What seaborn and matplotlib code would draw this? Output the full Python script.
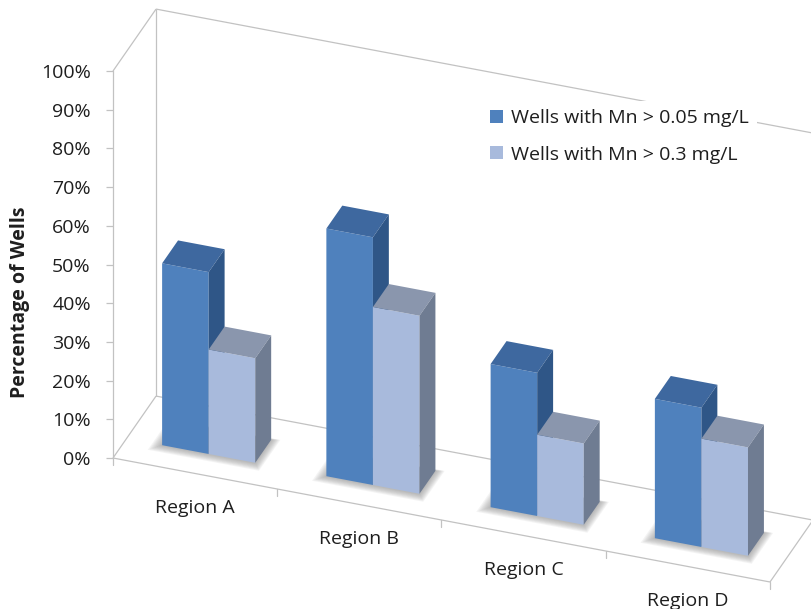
import numpy as np
import pandas as pd
import matplotlib
matplotlib.use("Agg")
import matplotlib.pyplot as plt
from matplotlib.patches import Polygon
from matplotlib.transforms import Affine2D
from matplotlib.ticker import PercentFormatter
import seaborn as sns

# ---- data -------------------------------------------------------------
regions = ["Region A", "Region B", "Region C", "Region D"]
series = ["Wells with Mn > 0.05 mg/L", "Wells with Mn > 0.3 mg/L"]
pct_over_005 = [47, 64, 37, 36]
pct_over_03 = [27, 46, 21, 28]
y_ticks = list(range(0, 101, 10))

# ---- style ------------------------------------------------------------
sns.set_style("white")
plt.rcParams["font.family"] = ["Open Sans", "DejaVu Sans"]
FS = 14
TEXT = "#1E1E1E"
WALL = "#C2C2C2"
front_cols = ["#4F81BD", "#A8BADC"]
top_cols = ["#3E689F", "#8A96AD"]
side_cols = ["#2F5687", "#6F7C92"]

# oblique view: floor drops S percent per category to the right,
# depth 1.0 moves TX categories right and TY percent up
S, TX, TY = 8.01, 0.262, 16.0
T0, T1 = 0.315, 0.685          # depth span of the bars


def proj(x, y, t):
    return (x + TX * t, y - S * (x + 0.5) + TY * t)


W, H = 812, 609
fig = plt.figure(figsize=(W / 100, H / 100), dpi=100)
ax = fig.add_axes([113 / W, (H - 458) / H, 657 / W, 387 / H])
ax.patch.set_visible(False)

df = pd.DataFrame({
    "Region": regions * 2,
    "Series": [series[0]] * len(regions) + [series[1]] * len(regions),
    "Pct": pct_over_005 + pct_over_03,
})
sns.barplot(data=df, x="Region", y="Pct", hue="Series", palette=front_cols,
            width=0.567, saturation=1, linewidth=0, edgecolor="none", ax=ax)

cat_pos = list(ax.get_xticks())
cat_lab = [t.get_text() for t in ax.get_xticklabels()]
handles, labels = ax.get_legend_handles_labels()
if ax.get_legend() is not None:
    ax.get_legend().remove()

ax.set_xlim(-0.5, len(regions) - 0.5)
ax.set_ylim(0, 100)

bars = [p for p in ax.patches if p.get_width() > 0]
bars.sort(key=lambda p: p.get_x())
front_T = Affine2D.from_values(1, -S, 0, 1, TX * T0, -0.5 * S + TY * T0)

# soft shadows on the floor under each pair of bars
for i in range(len(regions)):
    pair = [p for p in bars if abs(p.get_x() + p.get_width() / 2 - cat_pos[i]) < 0.5]
    x0 = min(p.get_x() for p in pair)
    x1 = max(p.get_x() + p.get_width() for p in pair)
    for k in range(8):
        e = 0.05 * (8 - k) / 8
        ex, et = e, e * 1.6
        poly = [proj(x0 - ex * 1.2, 0, T0 - et * 1.3), proj(x1 + ex, 0, T0 - et * 1.3),
                proj(x1 + ex, 0, T1 + et * 0.3), proj(x0 - ex * 1.2, 0, T1 + et * 0.3)]
        ax.add_patch(Polygon(poly, closed=True, facecolor="#808080", edgecolor="none",
                             alpha=0.085, zorder=2, clip_on=False))

# extrude every seaborn bar into a box
dark_rgb = np.array(matplotlib.colors.to_rgb(front_cols[0]))
for n, p in enumerate(bars):
    x0, w, h = p.get_x(), p.get_width(), p.get_height()
    s = 0 if np.allclose(p.get_facecolor()[:3], dark_rgb, atol=0.01) else 1
    z = 3 + n * 0.1
    p.set_transform(front_T + ax.transData)
    p.set_clip_on(False)
    p.set_zorder(z)
    top = [proj(x0, h, T0), proj(x0 + w, h, T0), proj(x0 + w, h, T1), proj(x0, h, T1)]
    side = [proj(x0 + w, 0, T0), proj(x0 + w, h, T0), proj(x0 + w, h, T1), proj(x0 + w, 0, T1)]
    ax.add_patch(Polygon(top, closed=True, facecolor=top_cols[s], edgecolor="none",
                         zorder=z, clip_on=False))
    ax.add_patch(Polygon(side, closed=True, facecolor=side_cols[s], edgecolor="none",
                         zorder=z, clip_on=False))

# floor and walls
xl, xr = -0.5, len(regions) - 0.5
edges = [
    ((xl, 0, 0), (xr, 0, 0)), ((xl, 0, 0), (xl, 0, 1)), ((xl, 0, 1), (xr, 0, 1)),
    ((xr, 0, 1), (xr, 0, 0)), ((xl, 0, 1), (xl, 100, 1)), ((xl, 100, 1), (xr, 100, 1)),
    ((xr, 0, 1), (xr, 100, 1)), ((xl, 100, 0), (xl, 100, 1)),
]
for a, b in edges:
    pa, pb = proj(*a), proj(*b)
    ax.plot([pa[0], pb[0]], [pa[1], pb[1]], color=WALL, lw=0.9, zorder=1,
            clip_on=False, solid_capstyle="butt")

# category ticks along the front edge of the floor
for k in range(len(regions) + 1):
    xb = k - 0.5
    pa, pb = proj(xb, 0, 0), proj(xb, -1.8, 0)
    ax.plot([pa[0], pb[0]], [pa[1], pb[1]], color=WALL, lw=0.9, zorder=1, clip_on=False)

# category labels
for xc, lab in zip(cat_pos, cat_lab):
    px, py = proj(xc, -8.8, 0)
    ax.text(px, py, lab, ha="center", va="center", fontsize=FS, color=TEXT)

# value axis
ax.set_xticks([])
ax.set_xlabel("")
ax.set_ylabel("")
ax.set_yticks(y_ticks)
ax.yaxis.set_major_formatter(PercentFormatter(xmax=100, decimals=0))
ax.tick_params(axis="y", left=True, length=5, width=0.9, color=WALL, pad=11,
               labelsize=FS, labelcolor=TEXT)
for side_name in ["top", "right", "bottom"]:
    ax.spines[side_name].set_visible(False)
ax.spines["left"].set_color(WALL)
ax.spines["left"].set_linewidth(0.9)

fig.text(20 / W, 1 - 302 / H, "Percentage of Wells", rotation=90, ha="center",
         va="center", fontsize=FS, fontweight="bold", color=TEXT)

leg = ax.legend(handles, labels, loc="upper left", bbox_to_anchor=(472 / W, 1 - 91 / H),
                bbox_transform=fig.transFigure, frameon=True, facecolor="white",
                edgecolor="none", framealpha=1, fontsize=FS, handlelength=0.65,
                handleheight=0.65, handletextpad=0.4, labelspacing=0.94, borderpad=0.45)
for t in leg.get_texts():
    t.set_color(TEXT)
leg.set_zorder(10)

fig.savefig("out.png", dpi=100)
